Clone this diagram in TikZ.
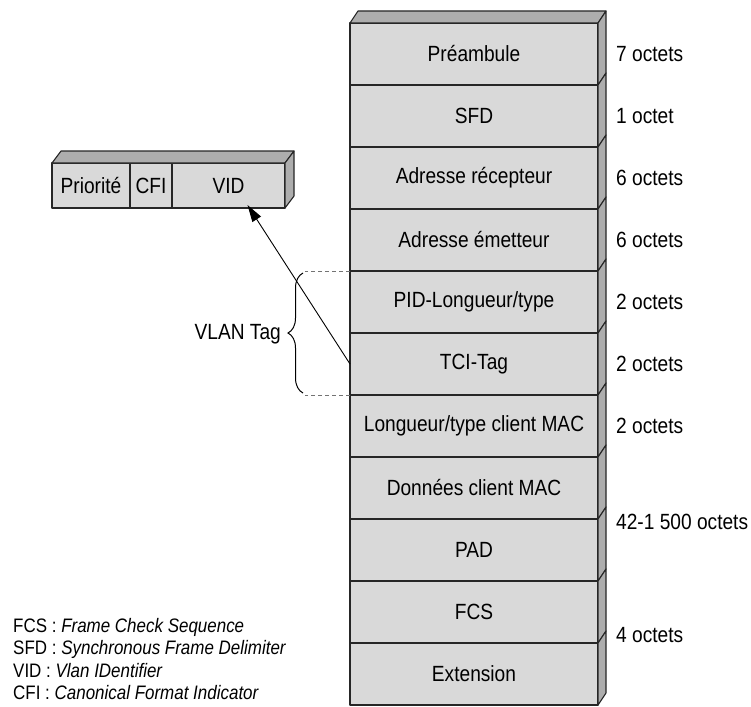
\documentclass[tikz,border=0pt]{standalone}
\usepackage{fontspec}
\setmainfont{Liberation Sans}[FakeStretch=0.87]
\usetikzlibrary{arrows.meta,calc,decorations.pathreplacing}

\begin{document}
\begin{tikzpicture}[x=1pt,y=-1pt,
  edge/.style={draw=black!85,line width=1.1pt,line join=round},
  front/.style={edge,fill=black!15},
  face/.style={edge,fill=black!32},
  big/.style={font=\fontsize{22}{26}\selectfont},
  row/.style={front,big,minimum width=248pt,minimum height=62pt,inner sep=0pt,outer sep=0pt},
  cell/.style={front,big,minimum height=45pt,inner sep=0pt,outer sep=0pt},
  size/.style={big,anchor=west,inner sep=0pt},
  legend/.style={anchor=west,inner sep=0pt,font=\fontsize{19.5}{23}\selectfont},
  guide/.style={draw=black!55,line width=1pt,dash pattern=on 4pt off 3pt},
]
\useasboundingbox (0,0) rectangle (751,706);

% Ethernet frame with 802.1Q tag, one slab per field
\node[row] (pre) at (474,54)  {Préambule};
\node[row] (sfd) at (474,116) {SFD};
\node[row] (dst) at (474,178) {Adresse récepteur};
\node[row] (src) at (474,240) {Adresse émetteur};
\node[row] (pid) at (474,302) {PID-Longueur/type};
\node[row] (tci) at (474,364) {TCI-Tag};
\node[row] (len) at (474,426) {Longueur/type client MAC};
\node[row] (dat) at (474,488) {Données client MAC};
\node[row] (pad) at (474,550) {PAD};
\node[row] (fcs) at (474,612) {FCS};
\node[row] (ext) at (474,674) {Extension};

% depth of the stack: top face and one side face per slab
\draw[face] (pre.north west) -- ++(8,-12) -- ($(pre.north east)+(8,-12)$) -- (pre.north east) -- cycle;
\foreach \n in {pre,sfd,dst,src,pid,tci,len,dat,pad,fcs,ext}
  \draw[face] (\n.north east) -- ++(8,-12) -- ($(\n.south east)+(8,-12)$) -- (\n.south east) -- cycle;

% field sizes
\node[size] (s1) at (616,54)  {7 octets};
\node[size] (s2) at (616,116) {1 octet};
\node[size] (s3) at (616,178) {6 octets};
\node[size] (s4) at (616,240) {6 octets};
\node[size] (s5) at (616,302) {2 octets};
\node[size] (s6) at (616,364) {2 octets};
\node[size] (s7) at (616,426) {2 octets};
\node[size] (s8) at (616,522) {42-1 500 octets};
\node[size] (s9) at (616,635) {4 octets};

% tag control information block
\node[cell,minimum width=78pt]  (prio) at (91,185.5)   {Priorité};
\node[cell,minimum width=42pt]  (cfi)  at (151,185.5)  {CFI};
\node[cell,minimum width=113pt] (vid)  at (228.5,185.5) {VID};
\draw[face] (prio.north west) -- ++(9,-12) -- ($(vid.north east)+(9,-12)$) -- (vid.north east) -- cycle;
\draw[face] (vid.north east) -- ++(9,-12) -- ($(vid.south east)+(9,-12)$) -- (vid.south east) -- cycle;

% VLAN tag brace
\draw[guide] (pid.north west) -- ++(-45,0) coordinate (btop);
\draw[guide] (tci.south west) -- ++(-45,0) coordinate (bbot);
\draw[line width=1pt,decorate,decoration={brace,amplitude=15pt}]
  ($(bbot)+(-2,-2)$) -- ($(btop)+(-2,2)$);
\node[big,anchor=east,inner sep=0pt] (vlan) at (281,334) {VLAN Tag};

% TCI expands into the tag fields
\draw[line width=0.9pt,-{Triangle[length=17pt,width=10pt]}]
  (tci.west) -- ([xshift=19pt,yshift=3pt]vid.south);

% abbreviations
\node[legend] (l1) at (13,627) {FCS : \textit{Frame Check Sequence}};
\node[legend] (l2) at (13,649) {SFD : \textit{Synchronous Frame Delimiter}};
\node[legend] (l3) at (13,671) {VID : \textit{Vlan IDentifier}};
\node[legend] (l4) at (13,693) {CFI : \textit{Canonical Format Indicator}};
\end{tikzpicture}
\end{document}
